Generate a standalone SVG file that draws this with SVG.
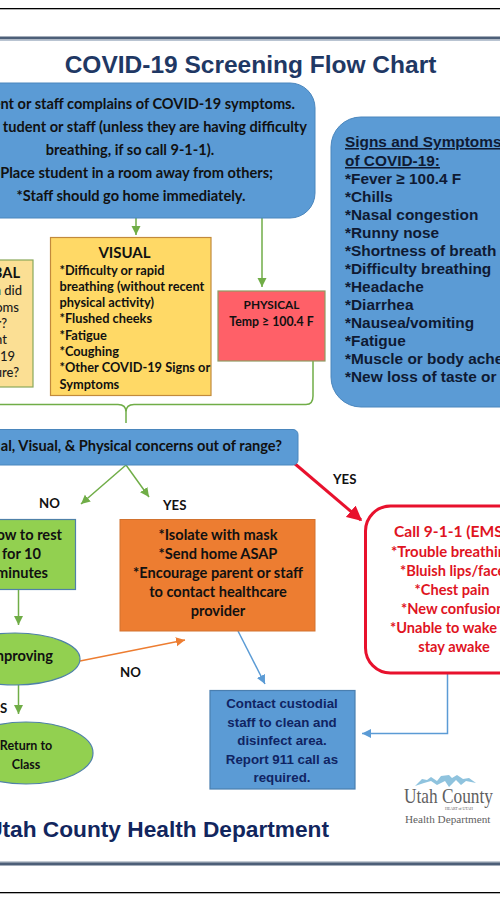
<svg xmlns="http://www.w3.org/2000/svg" width="500" height="899" viewBox="0 0 500 899">
<style>
.b{font-family:"Lato","Liberation Sans",sans-serif;font-weight:700;font-size:14.6px;fill:#111}
.v{font-family:"Lato","Liberation Sans",sans-serif;font-weight:500;font-size:13px;fill:#1c1c1c;text-anchor:end}
.t{font-size:12.800px}
.n{font-size:13.200px}
.a{font-family:"Liberation Sans",Arial,sans-serif;font-weight:700}
.m{text-anchor:middle}
.e{text-anchor:end}
.s{font-size:15.400px;fill:#0f1a33}
.c{font-size:13.300px;fill:#102463}
.r{fill:#e0141f}
.l{font-family:"Liberation Serif",serif;fill:#5f5f5f}
.g{fill:none;stroke:#70ad47;stroke-width:1.5}
.bl{fill:none;stroke:#5b9bd5;stroke-width:1.5}
</style>
<defs>
<marker id="ag" markerWidth="7" markerHeight="7" refX="6" refY="3" orient="auto"><path d="M0 0L6 3L0 6Z" fill="#70ad47"/></marker>
<marker id="ab" markerWidth="7" markerHeight="7" refX="6" refY="3" orient="auto"><path d="M0 0L6 3L0 6Z" fill="#5b9bd5"/></marker>
<marker id="ao" markerWidth="7" markerHeight="7" refX="6" refY="3" orient="auto"><path d="M0 0L6 3L0 6Z" fill="#ed7d31"/></marker>
<marker id="ar" markerWidth="5" markerHeight="5" refX="4.5" refY="2.5" orient="auto"><path d="M0 0L5 2.5L0 5Z" fill="#e8112d"/></marker>
</defs>
<rect width="500" height="899" fill="#fff"/>
<g id="frame">
<rect x="0" y="8" width="500" height="1.3" fill="#000"/>
<rect x="0" y="36.500" width="500" height="3" fill="#4d5f78"/>
<rect x="0" y="39.500" width="500" height="1.500" fill="#b9c4d2"/>
<rect x="0" y="861.500" width="500" height="1" fill="#8a97a8"/>
<rect x="0" y="862.500" width="500" height="3" fill="#4d5f78"/>
<rect x="0" y="892" width="500" height="1.300" fill="#000"/>
</g>
<text id="title" class="a m" x="250.500" y="73" font-size="24.500" fill="#1f3864">COVID-19 Screening Flow Chart</text>
<g id="connectors">
<path class="g" d="M136 218V235" marker-end="url(#ag)"/>
<path class="g" d="M262 218V287" marker-end="url(#ag)"/>
<path class="g" d="M0 404.500H118Q126 404.500 126 412V423M126 412Q126 404.500 134 404.500H306Q313 404.500 313 396V361"/>
<path class="g" d="M126 465L81 504" marker-end="url(#ag)"/>
<path class="g" d="M126 465L149 497" marker-end="url(#ag)"/>
<path class="g" d="M18.500 589V625" marker-end="url(#ag)"/>
<path class="g" d="M18.500 685V714" marker-end="url(#ag)"/>
<path d="M80 661L185 640" fill="none" stroke="#ed7d31" stroke-width="1.500" marker-end="url(#ao)"/>
<path class="bl" d="M238 631L265 684" marker-end="url(#ab)"/>
<path class="bl" d="M447.500 674V733.500H362" marker-end="url(#ab)"/>
<path d="M294 463L361 520" fill="none" stroke="#e8112d" stroke-width="3" marker-end="url(#ar)"/>
</g>
<g id="intake">
<rect x="-40" y="83" width="355" height="135" rx="25" fill="#5b9bd5" stroke="#4a86bd"/>
<text class="b e" x="295" y="109">ent or staff complains of COVID-19 symptoms.</text>
<text class="b e" x="307" y="132">tudent or staff (unless they are having difficulty</text>
<text class="b m" x="130" y="155">breathing, if so call 9-1-1).</text>
<text class="b e" x="273" y="178">Place student in a room away from others;</text>
<text class="b m" x="131" y="201">*Staff should go home immediately.</text>
</g>
<g id="verbal">
<rect x="-40" y="260" width="73" height="127" fill="#fbdf94" stroke="#8aa85a" stroke-width="1.200"/>
<text class="b e" x="20" y="278">BAL</text>
<text class="v" x="22" y="295">n did</text>
<text class="v" x="19" y="312">oms</text>
<text class="v" x="7" y="328">r?</text>
<text class="v" x="7" y="344">nt</text>
<text class="v" x="15" y="361">-19</text>
<text class="v" x="19" y="377">ure?</text>
</g>
<g id="visual">
<rect x="50.500" y="237.500" width="160.500" height="158" fill="#ffd966" stroke="#c28a3c" stroke-width="1.200"/>
<text class="b m" x="124.500" y="258" style="font-size:15px">VISUAL</text>
<text class="b t" x="59.500" y="275">*Difficulty or rapid</text>
<text class="b t" x="59.500" y="291">breathing (without recent</text>
<text class="b t" x="59.500" y="307">physical activity)</text>
<text class="b t" x="59.500" y="323">*Flushed cheeks</text>
<text class="b t" x="59.500" y="340">*Fatigue</text>
<text class="b t" x="59.500" y="356">*Coughing</text>
<text class="b t" x="59.500" y="372">*Other COVID-19 Signs or</text>
<text class="b t" x="59.500" y="389">Symptoms</text>
</g>
<g id="physical">
<rect x="218" y="291" width="107" height="70" fill="#ff6068" stroke="#8f9b63" stroke-width="1.200"/>
<text class="b m" x="271.500" y="309" style="font-size:11.800px">PHYSICAL</text>
<text class="b m" x="271.500" y="326" style="font-size:12.300px">Temp ≥ 100.4 F</text>
</g>
<g id="signs">
<rect x="331" y="117" width="220" height="290" rx="30" fill="#5b9bd5" stroke="#4a86bd"/>
<text class="a s" x="345" y="147" text-decoration="underline">Signs and Symptoms</text>
<text class="a s" x="345" y="166" text-decoration="underline">of COVID-19:</text>
<text class="a s" x="345" y="184">*Fever ≥ 100.4 F</text>
<text class="a s" x="345" y="202">*Chills</text>
<text class="a s" x="345" y="220">*Nasal congestion</text>
<text class="a s" x="345" y="238">*Runny nose</text>
<text class="a s" x="345" y="256">*Shortness of breath</text>
<text class="a s" x="345" y="274">*Difficulty breathing</text>
<text class="a s" x="345" y="292">*Headache</text>
<text class="a s" x="345" y="310">*Diarrhea</text>
<text class="a s" x="345" y="328">*Nausea/vomiting</text>
<text class="a s" x="345" y="346">*Fatigue</text>
<text class="a s" x="345" y="364">*Muscle or body ache</text>
<text class="a s" x="345" y="382">*New loss of taste or</text>
</g>
<g id="question">
<rect x="-40" y="429.500" width="338" height="35.500" rx="5" fill="#5b9bd5" stroke="#4a86bd"/>
<text class="b e" x="282" y="451">al, Visual, &amp; Physical concerns out of range?</text>
</g>
<g id="labels">
<text class="b n" x="39" y="508">NO</text>
<text class="b n" x="163" y="510">YES</text>
<text class="b n" x="120" y="677">NO</text>
<text class="b n" x="333" y="484">YES</text>
<text class="b n" x="0" y="713">S</text>
</g>
<g id="rest">
<rect x="-40" y="519.500" width="115.500" height="70" fill="#92d050" stroke="#4f81a8" stroke-width="1.200"/>
<text class="b e" x="62" y="540">ow to rest</text>
<text class="b e" x="41" y="559">for 10</text>
<text class="b e" x="48" y="578">minutes</text>
</g>
<g id="isolate">
<rect x="120" y="519.500" width="195" height="111.500" fill="#ed7d31" stroke="#d2722e"/>
<text class="b m" x="218" y="540">*Isolate with mask</text>
<text class="b m" x="218" y="559">*Send home ASAP</text>
<text class="b m" x="218" y="578">*Encourage parent or staff</text>
<text class="b m" x="218" y="597">to contact healthcare</text>
<text class="b m" x="218" y="616">provider</text>
</g>
<g id="improving">
<ellipse cx="15" cy="659" rx="65" ry="26" fill="#92d050" stroke="#4f81a8" stroke-width="1.200"/>
<text class="b e" x="53" y="661">nproving</text>
</g>
<g id="return">
<ellipse cx="26" cy="753" rx="67" ry="31" fill="#92d050" stroke="#4f81a8" stroke-width="1.200"/>
<text class="b m" x="26" y="750" style="font-size:12.500px">Return to</text>
<text class="b m" x="26" y="769" style="font-size:12.500px">Class</text>
</g>
<g id="contact">
<rect x="210" y="690.500" width="145" height="98.500" fill="#5b9bd5" stroke="#4a7fb0" stroke-width="1.200"/>
<text class="a c m" x="282" y="708">Contact custodial</text>
<text class="a c m" x="282" y="727">staff to clean and</text>
<text class="a c m" x="282" y="745">disinfect area.</text>
<text class="a c m" x="282" y="764">Report 911 call as</text>
<text class="a c m" x="282" y="782">required.</text>
</g>
<g id="ems">
<rect x="365.500" y="506" width="180" height="167" rx="25" fill="#fff" stroke="#e8112d" stroke-width="3"/>
<text class="b r" x="394" y="537" style="font-size:15.600px">Call 9-1-1 (EMS</text>
<text class="b r" x="391" y="557" style="font-size:14.900px">*Trouble breathin</text>
<text class="b r" x="400" y="576">*Bluish lips/face</text>
<text class="b r m" x="452" y="595">*Chest pain</text>
<text class="b r" x="401" y="614">*New confusion</text>
<text class="b r" x="390" y="633">*Unable to wake</text>
<text class="b r m" x="454" y="652">stay awake</text>
</g>
<text id="footer" class="a e" x="329" y="837" font-size="22.700" fill="#12265e">Utah County Health Department</text>
<g id="logo">
<path d="M415 786L422 779L427 780L431 777L437 781L441 776L449 775L452 778L457 775L463 779L469 778L476 783L466 781L461 785L456 780L449 787L445 781L437 785L431 781L424 783Z" fill="#8fc3de"/>
<text class="l" x="404" y="803" font-size="21" textLength="89" lengthAdjust="spacingAndGlyphs">Utah County</text>
<text class="l" x="445" y="810" font-size="4" fill="#aaa" textLength="28">HEART of UTAH</text>
<text class="l" x="405" y="823" font-size="11.200" fill="#333">Health Department</text>
</g>
</svg>
